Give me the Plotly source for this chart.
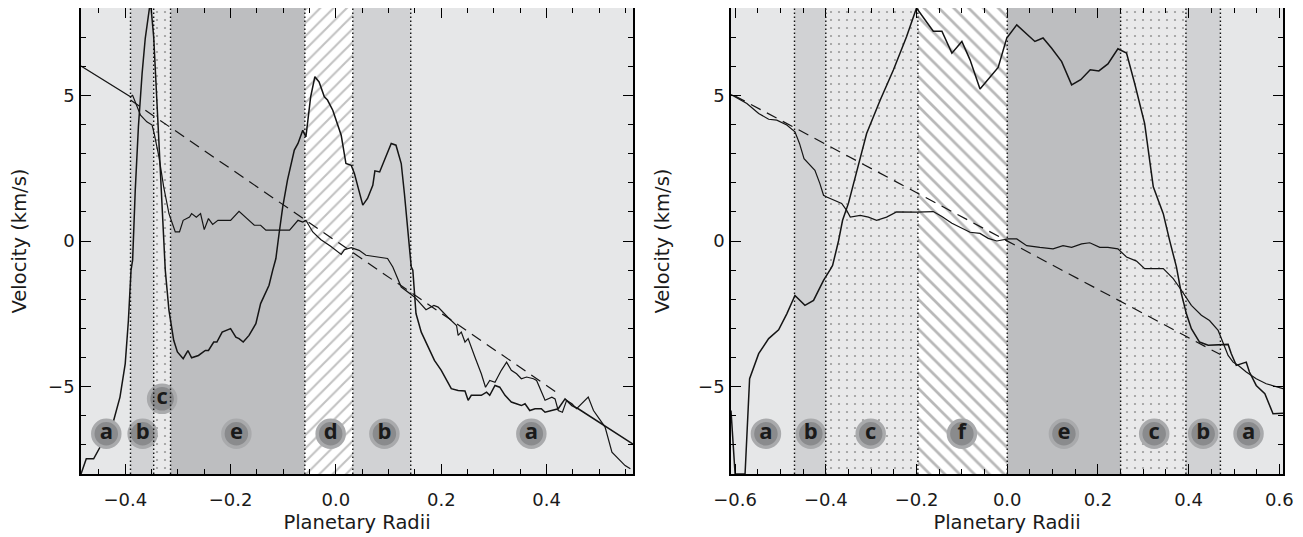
import plotly.graph_objects as go

# ---------------- data ----------------
Y_RANGE = [-8, 8]
LEFT_X_RANGE = [-0.484, 0.564]
RIGHT_X_RANGE = [-0.609, 0.608]

# region boundaries (Planetary Radii) and region types
left_bounds = [-0.484, -0.390, -0.346, -0.314, -0.059, 0.032, 0.142, 0.564]
left_zones = ["a", "b", "c", "e", "d", "b", "a"]
right_bounds = [-0.609, -0.469, -0.400, -0.197, 0.000, 0.250, 0.394, 0.470, 0.608]
right_zones = ["a", "b", "c", "f", "e", "c", "b", "a"]

# region letter badges
left_label_text = ["a", "b", "c", "e", "d", "b", "a"]
left_label_x = [-0.436, -0.367, -0.330, -0.189, -0.010, 0.092, 0.371]
left_label_y = [-6.62, -6.62, -5.42, -6.62, -6.62, -6.62, -6.62]
right_label_text = ["a", "b", "c", "f", "e", "c", "b", "a"]
right_label_x = [-0.532, -0.433, -0.301, -0.100, 0.125, 0.324, 0.432, 0.532]
right_label_y = [-6.62] * 8

# model (dashed) lines
left_model_x = [-0.390, 0.420]
left_model_y = [4.84, -5.21]
right_model_x = [-0.600, 0.470]
right_model_y = [4.98, -3.90]

# left panel, thin velocity curve
left_thin_x = [-0.484, -0.390, -0.386, -0.371, -0.359, -0.349, -0.345, -0.336, -0.327, -0.317,
               -0.305, -0.297, -0.290, -0.278, -0.274, -0.265, -0.257, -0.250, -0.242, -0.234,
               -0.224, -0.200, -0.184, -0.168, -0.155, -0.143, -0.133, -0.110, -0.088, -0.072,
               -0.063, -0.057, -0.044, -0.029, -0.010, 0.010, 0.016, 0.029, 0.044, 0.057,
               0.079, 0.098, 0.108, 0.124, 0.149, 0.171, 0.186, 0.194, 0.212, 0.229,
               0.232, 0.238, 0.245, 0.251, 0.264, 0.276, 0.284, 0.292, 0.302, 0.314,
               0.324, 0.333, 0.343, 0.352, 0.362, 0.375, 0.381, 0.387, 0.397, 0.410,
               0.416, 0.422, 0.430, 0.438, 0.448, 0.457, 0.467, 0.479, 0.489, 0.501,
               0.511, 0.524, 0.536, 0.549, 0.559]
left_thin_y = [6.01, 4.95, 5.00, 4.32, 4.09, 3.98, 3.69, 2.89, 1.86, 0.94,
               0.31, 0.31, 0.71, 0.82, 0.94, 0.82, 0.94, 0.39, 0.77, 0.57,
               0.71, 0.71, 1.02, 0.77, 0.54, 0.54, 0.37, 0.37, 0.37, 0.71,
               0.65, 0.71, 0.31, 0.05, -0.18, -0.46, -0.30, -0.23, -0.32, -0.49,
               -0.55, -0.60, -0.89, -1.58, -1.92, -2.36, -2.21, -2.27, -2.61, -2.90,
               -3.24, -3.13, -3.47, -3.35, -3.99, -4.56, -5.02, -4.79, -4.85, -4.44,
               -4.16, -4.44, -4.56, -4.73, -4.67, -4.73, -4.79, -5.07, -5.47, -5.36,
               -5.42, -5.82, -5.88, -5.47, -5.59, -5.76, -5.59, -5.36, -5.82, -6.11,
               -6.39, -7.25, -7.48, -7.71, -7.82]

# left panel, strongly varying velocity curve
left_thick_x = [-0.484, -0.474, -0.460, -0.441, -0.422, -0.410, -0.400, -0.394, -0.389, -0.386,
                -0.381, -0.375, -0.368, -0.362, -0.354, -0.351, -0.346, -0.340, -0.333, -0.327,
                -0.324, -0.317, -0.308, -0.301, -0.290, -0.281, -0.274, -0.261, -0.248, -0.242,
                -0.232, -0.226, -0.216, -0.200, -0.190, -0.184, -0.176, -0.165, -0.152, -0.143,
                -0.133, -0.127, -0.120, -0.114, -0.108, -0.101, -0.092, -0.079, -0.072, -0.063,
                -0.057, -0.048, -0.040, -0.032, -0.022, -0.016, -0.006, 0.003, 0.010, 0.019,
                0.029, 0.035, 0.051, 0.060, 0.070, 0.074, 0.083, 0.092, 0.105, 0.114,
                0.124, 0.130, 0.137, 0.143, 0.146, 0.152, 0.162, 0.175, 0.187, 0.200,
                0.219, 0.232, 0.245, 0.251, 0.257, 0.276, 0.286, 0.292, 0.302, 0.311,
                0.321, 0.333, 0.343, 0.352, 0.359, 0.368, 0.378, 0.390, 0.397, 0.410,
                0.422, 0.435, 0.448, 0.460, 0.568]
left_thick_y = [-8.00, -7.48, -7.48, -6.85, -6.16, -5.36, -4.21, -2.73, -1.00, -0.66,
                1.74, 3.92, 5.75, 6.96, 8.00, 8.00, 7.01, 4.84, 2.20, -0.20,
                -1.00, -2.38, -3.41, -3.81, -4.04, -3.76, -4.01, -3.93, -3.76, -3.76,
                -3.47, -3.47, -3.13, -3.01, -3.30, -3.35, -3.47, -3.24, -2.84, -2.15,
                -1.75, -1.52, -1.00, -0.60, 0.25, 1.17, 2.09, 3.12, 3.35, 3.80,
                3.57, 4.95, 5.64, 5.46, 4.95, 4.84, 4.49, 4.03, 3.63, 2.66,
                2.60, 2.32, 1.23, 1.46, 1.91, 2.41, 2.37, 2.77, 3.35, 3.29,
                2.66, 1.63, 0.25, -0.89, -1.00, -2.49, -3.13, -3.64, -4.10, -4.44,
                -5.07, -5.13, -5.15, -5.47, -5.30, -5.30, -5.19, -5.30, -4.96, -5.02,
                -5.30, -5.53, -5.59, -5.65, -5.59, -5.82, -5.76, -5.76, -5.88, -5.82,
                -5.76, -5.42, -5.65, -5.76, -7.02]

# right panel, thin velocity curve
right_thin_x = [-0.609, -0.574, -0.548, -0.526, -0.508, -0.486, -0.468, -0.458, -0.448, -0.438,
                -0.424, -0.413, -0.405, -0.398, -0.383, -0.365, -0.354, -0.346, -0.324, -0.306,
                -0.288, -0.266, -0.244, -0.200, -0.163, -0.144, -0.122, -0.104, -0.082, -0.060,
                -0.042, -0.023, 0.002, 0.021, 0.043, 0.072, 0.101, 0.123, 0.142, 0.164,
                0.182, 0.204, 0.222, 0.244, 0.263, 0.285, 0.303, 0.344, 0.366, 0.384,
                0.406, 0.428, 0.446, 0.465, 0.476, 0.487, 0.498, 0.509, 0.527, 0.549,
                0.571, 0.608]
right_thin_y = [5.03, 4.72, 4.38, 4.18, 4.15, 3.98, 3.75, 3.35, 2.83, 2.66,
                2.43, 1.97, 1.57, 1.51, 1.40, 1.29, 1.05, 0.82, 0.88, 0.82,
                0.71, 0.82, 1.00, 0.99, 1.01, 0.84, 0.61, 0.46, 0.30, 0.26,
                0.09, 0.00, 0.07, 0.07, -0.16, -0.22, -0.27, -0.16, -0.22, -0.10,
                -0.06, -0.22, -0.22, -0.27, -0.55, -0.69, -0.95, -0.95, -1.29, -1.69,
                -2.21, -2.55, -2.73, -3.07, -3.53, -3.93, -4.16, -4.27, -4.50, -4.73,
                -4.90, -5.07]

# right panel, strongly varying velocity curve
right_thick_x = [-0.609, -0.600, -0.578, -0.568, -0.548, -0.526, -0.504, -0.486, -0.468, -0.446,
                 -0.427, -0.405, -0.391, -0.385, -0.372, -0.363, -0.350, -0.330, -0.310, -0.280,
                 -0.251, -0.222, -0.200, -0.163, -0.144, -0.122, -0.100, -0.082, -0.060, -0.020,
                 -0.001, 0.021, 0.061, 0.079, 0.098, 0.120, 0.142, 0.162, 0.183, 0.202,
                 0.222, 0.244, 0.263, 0.281, 0.303, 0.322, 0.344, 0.358, 0.373, 0.384,
                 0.395, 0.406, 0.424, 0.443, 0.468, 0.487, 0.494, 0.505, 0.527, 0.534,
                 0.549, 0.568, 0.586, 0.608]
right_thick_y = [-5.82, -8.00, -8.00, -4.73, -3.87, -3.35, -3.05, -2.50, -1.87, -2.21,
                 -2.04, -1.35, -1.00, -0.84, 0.00, 0.71, 1.30, 2.54, 3.69, 4.84,
                 5.87, 7.01, 8.00, 7.20, 7.20, 6.45, 6.85, 6.22, 5.22, 5.96,
                 6.97, 7.42, 6.85, 6.97, 6.62, 6.16, 5.36, 5.54, 5.88, 5.84,
                 6.08, 6.60, 6.45, 5.41, 4.03, 1.86, 0.94, 0.02, -0.89, -1.81,
                 -2.50, -3.01, -3.47, -3.58, -3.56, -3.55, -3.87, -4.27, -4.16, -4.50,
                 -4.96, -5.24, -5.93, -5.91]

# ---------------- styles ----------------
ZONE_STYLE = {
    "a": dict(bg="#e6e7e8", shape="", fg="#e6e7e8", size=8, solidity=0.2),
    "b": dict(bg="#d1d2d4", shape="", fg="#d1d2d4", size=8, solidity=0.2),
    "e": dict(bg="#bdbec0", shape="", fg="#bdbec0", size=8, solidity=0.2),
    "c": dict(bg="#e9e9ea", shape=".", fg="#9a9a9a", size=8, solidity=0.06),
    "d": dict(bg="#ffffff", shape="/", fg="#c2c2c2", size=9.4, solidity=0.22),
    "f": dict(bg="#ffffff", shape="\\", fg="#b8b8b8", size=10.5, solidity=0.26),
}
FONT = "DejaVu Sans"
LINE_COLOR = "#151515"

fig = go.Figure()


def add_panel(bounds, zones, xa, ya, yref_dom):
    for i, z in enumerate(zones):
        x0, x1 = bounds[i], bounds[i + 1]
        st = ZONE_STYLE[z]
        fig.add_trace(go.Bar(
            x=[(x0 + x1) / 2], y=[Y_RANGE[1] - Y_RANGE[0]], base=[Y_RANGE[0]],
            width=[x1 - x0], xaxis=xa, yaxis=ya,
            marker=dict(color=st["bg"], line=dict(width=0),
                        pattern=dict(shape=st["shape"], fgcolor=st["fg"], bgcolor=st["bg"],
                                     size=st["size"], solidity=st["solidity"])),
            showlegend=False, hoverinfo="skip"))
    # dotted boundaries between regions
    for b in bounds[1:-1]:
        fig.add_shape(type="line", x0=b, x1=b, y0=0, y1=1, xref=xa, yref=yref_dom,
                      line=dict(color="#111111", width=1.4, dash="1.5px,2.5px"), layer="above")


add_panel(left_bounds, left_zones, "x", "y", "y domain")
add_panel(right_bounds, right_zones, "x2", "y2", "y2 domain")


def add_lines(mx, my, tx, ty, kx, ky, xa, ya):
    fig.add_trace(go.Scatter(x=mx, y=my, mode="lines", xaxis=xa, yaxis=ya,
                             line=dict(color=LINE_COLOR, width=1.2, dash="11px,7px"),
                             showlegend=False, hoverinfo="skip"))
    fig.add_trace(go.Scatter(x=tx, y=ty, mode="lines", xaxis=xa, yaxis=ya,
                             line=dict(color=LINE_COLOR, width=1.2),
                             showlegend=False))
    fig.add_trace(go.Scatter(x=kx, y=ky, mode="lines", xaxis=xa, yaxis=ya,
                             line=dict(color=LINE_COLOR, width=1.5),
                             showlegend=False))


add_lines(left_model_x, left_model_y, left_thin_x, left_thin_y,
          left_thick_x, left_thick_y, "x", "y")
add_lines(right_model_x, right_model_y, right_thin_x, right_thin_y,
          right_thick_x, right_thick_y, "x2", "y2")


def add_badges(lx, ly, lt, xa, ya):
    fig.add_trace(go.Scatter(
        x=lx, y=ly, text=lt, mode="markers+text", textposition="middle center",
        xaxis=xa, yaxis=ya,
        marker=dict(size=27, color="#8a8b8d", line=dict(color="#a9aaac", width=3.5)),
        textfont=dict(family="Open Sans", size=22, color="#1a1a1a", weight="bold"),
        showlegend=False, hoverinfo="skip", cliponaxis=False))


add_badges(left_label_x, left_label_y, left_label_text, "x", "y")
add_badges(right_label_x, right_label_y, right_label_text, "x2", "y2")

W, H = 1303, 537
axis_common = dict(
    showline=True, linecolor="black", linewidth=1.5, mirror="ticks",
    ticks="inside", ticklen=10, tickwidth=1.3, tickcolor="black",
    showgrid=False, zeroline=False,
    tickfont=dict(family=FONT, size=18, color="#1a1a1a"),
)
xa_common = dict(axis_common, dtick=0.2, tick0=0, tickformat=".1f", ticklabelstandoff=9,
                 minor=dict(ticks="inside", ticklen=5, dtick=0.05, tick0=0,
                            tickwidth=1.3, tickcolor="black", showgrid=False),
                 title=dict(text="Planetary Radii", font=dict(family=FONT, size=19.5, color="#1a1a1a"),
                            standoff=6))
ya_common = dict(axis_common, dtick=5, tick0=0, range=Y_RANGE, ticklabelstandoff=1,
                 minor=dict(ticks="inside", ticklen=5, dtick=1, tick0=0,
                            tickwidth=1.3, tickcolor="black", showgrid=False),
                 title=dict(text="Velocity (km/s)", font=dict(family=FONT, size=19.5, color="#1a1a1a"),
                            standoff=23))

# page body has an 8px margin, so the figure is laid out relative to (8, 8)
fig.update_layout(
    width=W, height=H, template="none",
    margin=dict(l=0, r=0, t=0, b=71),
    paper_bgcolor="white", plot_bgcolor="white",
    barmode="overlay", showlegend=False,
    xaxis=dict(xa_common, domain=[73 / W, 625 / W], range=LEFT_X_RANGE, anchor="y"),
    yaxis=dict(ya_common, domain=[0, 1], anchor="x"),
    xaxis2=dict(xa_common, domain=[723 / W, 1275 / W], range=RIGHT_X_RANGE, anchor="y2"),
    yaxis2=dict(ya_common, domain=[0, 1], anchor="x2"),
)

fig.write_html("out.html")
